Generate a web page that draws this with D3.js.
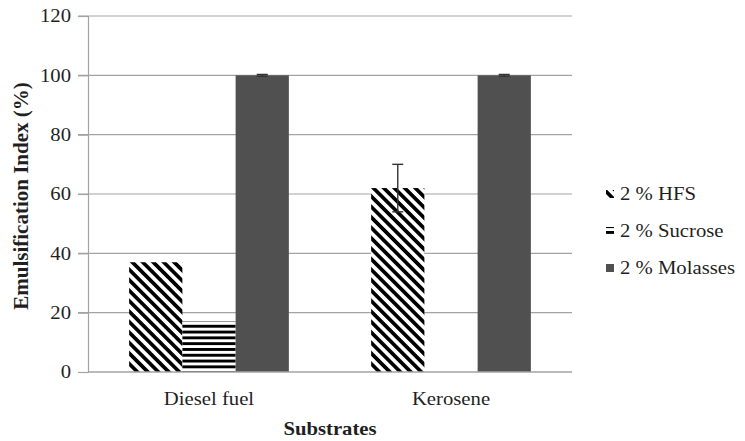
<!DOCTYPE html>
<html>
<head>
<meta charset="utf-8">
<script src="https://cdn.jsdelivr.net/npm/d3@7"></script>
<style>
  html, body { margin: 0; padding: 0; background: #fff; }
  svg { display: block; }
</style>
</head>
<body>
<svg id="chart" width="745" height="441"></svg>
<script>
// Emulsification index of two substrates for three carbon sources
const categories = ["Diesel fuel", "Kerosene"];
const seriesNames = ["2 % HFS", "2 % Sucrose", "2 % Molasses"];
const hfsValues = [37, 62];
const sucroseValues = [17, 0];
const molassesValues = [100, 100];
const hfsErrors = [0, 8];
const sucroseErrors = [0, 0];
const molassesErrors = [0.3, 0.3];
const yTicks = [0, 20, 40, 60, 80, 100, 120];

const series = [
  { name: seriesNames[0], values: hfsValues, errors: hfsErrors, fill: "url(#diag)" },
  { name: seriesNames[1], values: sucroseValues, errors: sucroseErrors, fill: "url(#horiz)" },
  { name: seriesNames[2], values: molassesValues, errors: molassesErrors, fill: "#505050" }
];

const FONT = "'Liberation Serif', 'Times New Roman', serif";
const FS = 18.5;     // text size
const SX = 1.12;     // slightly widened glyphs
const INK = "#1f1f1f";

const svg = d3.select("#chart");
const margin = { left: 88, right: 173, top: 16, bottom: 69 };
const W = 745, H = 441;

// stripe fills
const defs = svg.append("defs");
const dp = 7.4;
const diag = defs.append("pattern").attr("id", "diag")
  .attr("patternUnits", "userSpaceOnUse").attr("width", dp).attr("height", dp)
  .attr("patternTransform", "rotate(-45)");
diag.append("rect").attr("width", dp).attr("height", dp).attr("fill", "#fff");
diag.append("rect").attr("x", 0).attr("width", 3.7).attr("height", dp).attr("fill", "#000");

const hp = 5.8;
const horiz = defs.append("pattern").attr("id", "horiz")
  .attr("patternUnits", "userSpaceOnUse").attr("width", 6).attr("height", hp);
horiz.append("rect").attr("width", 6).attr("height", hp).attr("fill", "#fff");
horiz.append("rect").attr("y", 0).attr("width", 6).attr("height", 2.9).attr("fill", "#000");

const x0 = d3.scaleBand().domain(categories).range([margin.left, W - margin.right]).padding(0);
const x1 = d3.scaleBand().domain(seriesNames).range([0, x0.bandwidth() * 0.66]).padding(0);
const y = d3.scaleLinear().domain([0, 120]).range([H - margin.bottom, margin.top]);

// text helper: places a widened label at (x, y)
function label(parent, x, yy, txt, opts = {}) {
  return parent.append("text")
    .attr("transform", `translate(${x},${yy}) scale(${opts.sx ?? SX},1)`)
    .attr("text-anchor", opts.anchor || "middle")
    .attr("dy", opts.dy || null)
    .attr("fill", INK)
    .style("font-family", FONT)
    .style("font-size", (opts.size || FS) + "px")
    .style("font-weight", opts.bold ? "bold" : "normal")
    .text(txt);
}

// grid lines
svg.append("g").selectAll("line").data(yTicks.filter(t => t > 0)).join("line")
  .attr("x1", margin.left - 10).attr("x2", W - margin.right)
  .attr("y1", d => y(d)).attr("y2", d => y(d))
  .attr("stroke", "#a3a3a3").attr("stroke-width", 1.2);

// y axis
const yAxis = svg.append("g").attr("transform", `translate(${margin.left},0)`)
  .call(d3.axisLeft(y).tickValues(yTicks).tickSize(10).tickFormat(""));
yAxis.select(".domain").attr("stroke", "#a3a3a3").attr("stroke-width", 1.2);
yAxis.selectAll(".tick line").attr("stroke", "#a3a3a3").attr("stroke-width", 1.2);
const tickLabels = svg.append("g");
yTicks.forEach(t => label(tickLabels, 71, y(t), String(t), { anchor: "end", dy: "0.35em" }));

// bars
const groupOffset = (x0.bandwidth() - x1.range()[1]) / 2;
const groups = svg.append("g").selectAll("g").data(categories).join("g")
  .attr("transform", d => `translate(${x0(d) + groupOffset},0)`);

groups.each(function(cat, ci) {
  const g = d3.select(this);
  series.forEach(s => {
    const v = s.values[ci];
    if (v <= 0) return;
    g.append("rect")
      .attr("x", x1(s.name)).attr("width", x1.bandwidth())
      .attr("y", y(v)).attr("height", y(0) - y(v))
      .attr("fill", s.fill);
  });
  series.forEach(s => {
    const v = s.values[ci], e = s.errors[ci];
    if (v <= 0 || e <= 0) return;
    const cx = x1(s.name) + x1.bandwidth() / 2;
    g.append("line").attr("x1", cx).attr("x2", cx).attr("y1", y(v + e)).attr("y2", y(v - e))
      .attr("stroke", "#333").attr("stroke-width", 1.4);
    [v + e, v - e].forEach(yy => {
      g.append("line").attr("x1", cx - 5.5).attr("x2", cx + 5.5).attr("y1", y(yy)).attr("y2", y(yy))
        .attr("stroke", "#333").attr("stroke-width", 1.4);
    });
  });
});

// x axis baseline
svg.append("line").attr("x1", margin.left).attr("x2", W - margin.right)
  .attr("y1", y(0)).attr("y2", y(0)).attr("stroke", "#a3a3a3").attr("stroke-width", 1.3);

// category labels
const catLabels = svg.append("g");
categories.forEach(c => label(catLabels, x0(c) + x0.bandwidth() / 2, 405, c));

// axis titles
label(svg, 330, 435, "Substrates", { bold: true });
svg.append("text").attr("transform", "translate(28,196) rotate(-90)").attr("text-anchor", "middle")
  .attr("fill", INK).style("font-family", FONT).style("font-size", "21px").style("font-weight", "bold")
  .text("Emulsification Index (%)");

// legend
const legend = svg.append("g").selectAll("g").data(series).join("g")
  .attr("transform", (d, i) => `translate(606,${194 + i * 37})`);
legend.append("rect").attr("x", 0).attr("y", -4).attr("width", 8).attr("height", 8)
  .attr("fill", d => d.fill);
legend.each(function(d) { label(d3.select(this), 14, 0, d.name, { anchor: "start", dy: "0.35em" }); });
</script>
</body>
</html>
